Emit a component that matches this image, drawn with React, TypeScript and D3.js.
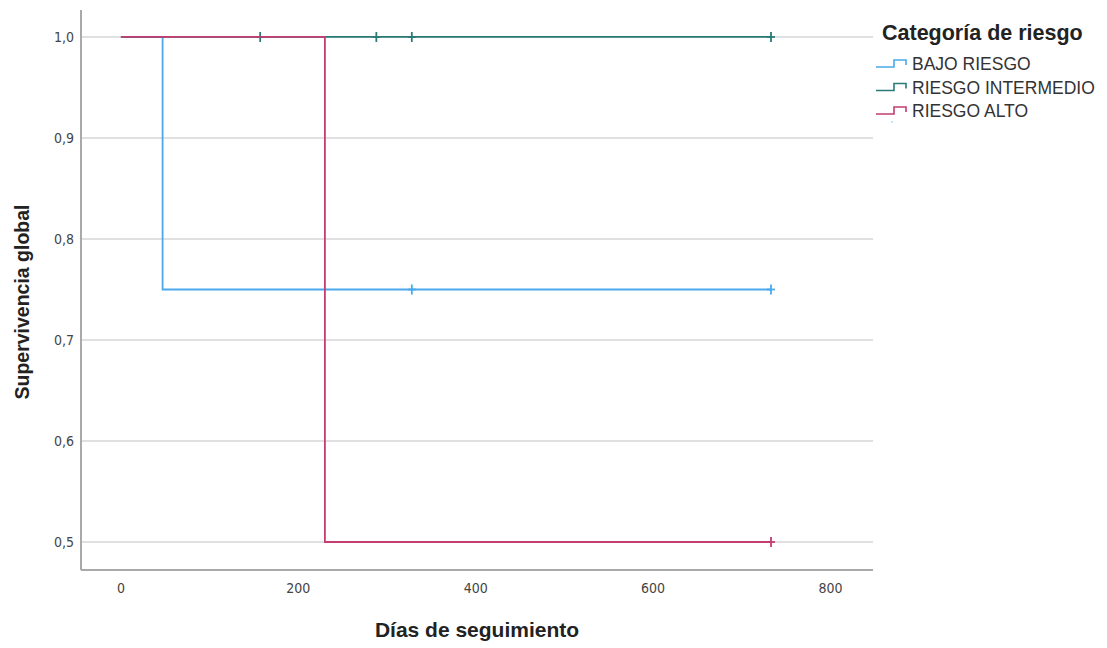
import React from "react";
import * as d3 from "d3";

const W = 1107;
const H = 648;
const MARGIN = { LEFT: 81, RIGHT: 234, TOP: 10, BOTTOM: 78 };

const groups = ["BAJO RIESGO", "RIESGO INTERMEDIO", "RIESGO ALTO"];
const colors = ["#4aa9ec", "#2a7a78", "#c43c70"];

// survival steps: [day, survival]
const bajoSteps = [[0, 1], [47, 1], [47, 0.75], [733, 0.75]];
const intermedioSteps = [[0, 1], [733, 1]];
const altoSteps = [[0, 1], [230, 1], [230, 0.5], [733, 0.5]];
const stepsByGroup = [bajoSteps, intermedioSteps, altoSteps];

// censored observations: [day, survival]
const bajoCensored = [[328, 0.75], [733, 0.75]];
const intermedioCensored = [[157, 1], [288, 1], [328, 1], [733, 1]];
const altoCensored = [[733, 0.5]];
const censoredByGroup = [bajoCensored, intermedioCensored, altoCensored];

const xTicks = [0, 200, 400, 600, 800];
const yTicks = [0.5, 0.6, 0.7, 0.8, 0.9, 1.0];

const TICK_FONT = "Liberation Sans Narrow, DejaVu Sans Condensed, sans-serif";

const App = () => {
  const x = d3
    .scaleLinear()
    .domain([-45, 848])
    .range([MARGIN.LEFT, W - MARGIN.RIGHT]);
  const y = d3
    .scaleLinear()
    .domain([0.4723, 1.0267])
    .range([H - MARGIN.BOTTOM, MARGIN.TOP]);

  const line = d3
    .line<number[]>()
    .x((d) => x(d[0]))
    .y((d) => y(d[1]));

  const fmt = (v: number) => v.toFixed(1).replace(".", ",");
  const x0 = MARGIN.LEFT;
  const x1 = W - MARGIN.RIGHT;
  const yb = H - MARGIN.BOTTOM;

  return (
    <svg
      width={W}
      height={H}
      style={{ position: "absolute", left: 0, top: 0, background: "#fff" }}
      fontFamily="Liberation Sans, Arial, sans-serif"
    >
      {yTicks.map((t) => (
        <g key={t}>
          <line x1={x0} x2={x1} y1={y(t)} y2={y(t)} stroke="#d6d6d6" strokeWidth={1.5} />
          <text
            x={x0 - 7}
            y={y(t)}
            dy="0.35em"
            textAnchor="end"
            fontSize={14}
            fill="#444"
            fontFamily={TICK_FONT}
          >
            {fmt(t)}
          </text>
        </g>
      ))}
      {xTicks.map((t) => (
        <text
          key={t}
          x={x(t)}
          y={yb + 18}
          dy="0.35em"
          textAnchor="middle"
          fontSize={14}
          fill="#444"
          fontFamily={TICK_FONT}
        >
          {t}
        </text>
      ))}
      <line x1={x0} x2={x0} y1={MARGIN.TOP} y2={yb} stroke="#a9a9a9" strokeWidth={2} />
      <line x1={x0} x2={x1} y1={yb} y2={yb} stroke="#a9a9a9" strokeWidth={2} />

      {groups.map((name, g) => (
        <g key={name}>
          <path d={line(stepsByGroup[g]) || ""} fill="none" stroke={colors[g]} strokeWidth={1.8} />
          {censoredByGroup[g].map((c, i) => (
            <g key={i} stroke={colors[g]} strokeWidth={1.8}>
              <line x1={x(c[0])} x2={x(c[0])} y1={y(c[1]) - 5} y2={y(c[1]) + 5} />
              <line x1={x(c[0]) - 4} x2={x(c[0]) + 4} y1={y(c[1])} y2={y(c[1])} />
            </g>
          ))}
        </g>
      ))}

      <text
        x={477}
        y={637}
        textAnchor="middle"
        fontSize={21}
        fontWeight="bold"
        fill="#222"
      >
        Días de seguimiento
      </text>
      <text
        transform={`translate(29,${302}) rotate(-90)`}
        textAnchor="middle"
        fontSize={19.5}
        fontWeight="bold"
        fill="#222"
      >
        Supervivencia global
      </text>

      <text x={882} y={40} fontSize={21.5} fontWeight="bold" fill="#222">
        Categoría de riesgo
      </text>
      {groups.map((g, i) => {
        const cy = 64 + i * 23.5;
        return (
          <g key={g}>
            <path
              d={`M876,${cy + 3}H894V${cy - 4}H906V${cy + 1}`}
              fill="none"
              stroke={colors[i]}
              strokeWidth={1.6}
            />
            <text x={912} y={cy} dy="0.35em" fontSize={17.5} fill="#333">
              {g}
            </text>
          </g>
        );
      })}
      <circle cx={892} cy={122} r={0.8} fill="#8ec8f0" />
    </svg>
  );
};

export default App;
